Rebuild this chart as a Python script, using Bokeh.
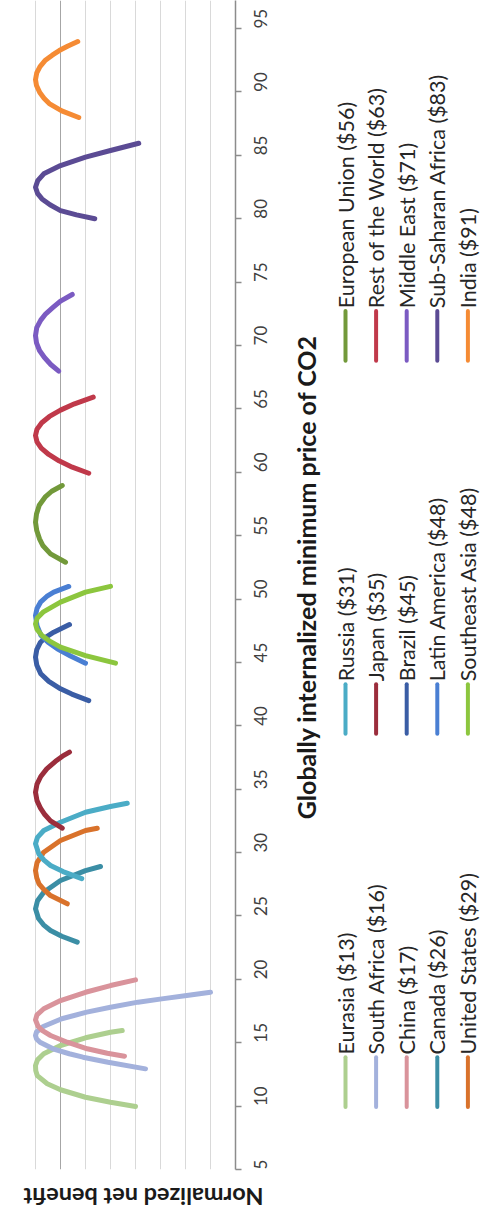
import math
from bokeh.plotting import figure
from bokeh.models import Range1d, LinearAxis, FixedTicker, Grid, Span
from bokeh.layouts import row, column
from bokeh.core.properties import value
from bokeh.embed import file_html
from bokeh.resources import INLINE

# ---------------- data ----------------
countries = ["Eurasia", "South Africa", "China", "Canada", "United States",
             "Russia", "Japan", "Brazil", "Latin America", "Southeast Asia",
             "European Union", "Rest of the World", "Middle East",
             "Sub-Saharan Africa", "India"]
country_prices = [13, 16, 17, 26, 29, 31, 35, 45, 48, 48, 56, 63, 71, 83, 91]
colors = ["#adcf8f", "#a3b1dc", "#d9939b", "#3b8ea5", "#d9722b",
          "#4bacc6", "#9b2d3c", "#3a5da5", "#4a7fd3", "#8cc63e",
          "#72993a", "#c0394a", "#7b5bc2", "#5b4b94", "#f58b34"]

eurasia_price = [9.97, 10.31, 10.70, 11.29, 11.76, 12.41, 12.8, 13.2, 13.65, 14.13, 14.78, 15.39, 15.83, 15.96]
eurasia_benefit = [-3.0, -2.0, -1.0, 0.0, 0.53, 0.93, 0.99, 1.0, 0.92, 0.67, 0.0, -1.0, -2.0, -2.47]
south_africa_price = [12.94, 13.46, 13.86, 14.13, 14.52, 15.04, 15.3, 15.57, 15.85, 16.28, 16.89, 17.41, 17.8, 18.2, 18.46, 18.72, 18.98]
south_africa_benefit = [-3.4, -1.9, -0.9, -0.35, 0.3, 0.82, 0.96, 1.0, 0.96, 0.69, -0.05, -1.05, -2.0, -3.1, -4.05, -5.05, -6.0]
china_price = [13.94, 14.17, 14.52, 15.04, 15.57, 15.95, 16.3, 16.8, 17.2, 17.68, 18.33, 18.98, 19.51, 19.96]
china_benefit = [-2.56, -1.87, -1.07, -0.27, 0.4, 0.72, 0.9, 1.0, 0.94, 0.67, 0.0, -1.0, -2.0, -3.0]
canada_price = [22.93, 23.4, 23.85, 24.3, 24.8, 25.56, 26.2, 26.87, 27.8, 28.58, 28.9]
canada_benefit = [-0.67, -0.05, 0.4, 0.68, 0.88, 1.0, 0.92, 0.67, 0.0, -1.0, -1.6]
us_price = [25.96, 26.61, 27.1, 27.53, 28.0, 28.58, 29.2, 30.03, 30.95, 31.74, 31.92]
us_benefit = [-0.27, 0.4, 0.67, 0.86, 0.95, 1.0, 0.94, 0.67, 0.0, -1.0, -1.47]
russia_price = [27.95, 28.5, 28.98, 29.4, 29.9, 30.69, 31.2, 31.74, 32.39, 33.18, 33.63, 33.89]
russia_benefit = [-0.85, -0.1, 0.4, 0.66, 0.87, 1.0, 0.92, 0.67, 0.0, -1.0, -2.0, -2.67]
japan_price = [31.92, 32.5, 33.0, 33.5, 34.1, 34.76, 35.4, 36.0, 36.6, 37.2, 37.6, 37.92]
japan_benefit = [-0.07, 0.4, 0.63, 0.8, 0.94, 1.0, 0.94, 0.79, 0.55, 0.2, -0.08, -0.36]
brazil_price = [41.99, 42.5, 42.92, 43.5, 44.1, 44.8, 45.41, 46.0, 46.59, 47.0, 47.38, 47.99]
brazil_benefit = [-1.13, -0.45, 0.0, 0.47, 0.79, 0.95, 1.0, 0.95, 0.8, 0.58, 0.27, -0.36]
latam_price = [44.94, 45.5, 46.07, 46.6, 47.12, 47.9, 48.7, 49.25, 49.75, 50.2, 50.54, 50.99]
latam_benefit = [-1.0, -0.4, 0.13, 0.5, 0.78, 0.94, 1.0, 0.94, 0.8, 0.55, 0.27, -0.33]
se_asia_price = [44.94, 45.54, 46.2, 46.7, 47.12, 47.6, 48.04, 48.5, 48.96, 49.75, 50.54, 51.0]
se_asia_benefit = [-2.2, -1.0, 0.0, 0.45, 0.74, 0.94, 1.0, 0.93, 0.7, 0.0, -1.0, -2.0]
eu_price = [52.9, 53.56, 54.2, 54.75, 55.4, 56.06, 56.7, 57.4, 58.03, 58.5, 58.95]
eu_benefit = [-0.2, 0.4, 0.7, 0.84, 0.95, 1.0, 0.96, 0.85, 0.62, 0.35, -0.07]
row_price = [59.92, 60.4, 60.9, 61.4, 61.9, 62.4, 62.9, 63.4, 63.9, 64.4, 64.9, 65.4, 65.92]
row_benefit = [-1.13, -0.47, 0.06, 0.47, 0.77, 0.94, 1.0, 0.94, 0.75, 0.44, 0.0, -0.56, -1.31]
me_price = [67.97, 68.5, 69.07, 69.6, 70.2, 70.78, 71.4, 72.0, 72.5, 73.0, 73.5, 74.02]
me_benefit = [0.07, 0.39, 0.65, 0.84, 0.96, 1.0, 0.95, 0.79, 0.59, 0.3, 0.0, -0.47]
ssa_price = [79.99, 80.3, 80.64, 81.1, 81.56, 82.0, 82.48, 83.0, 83.54, 84.19, 84.85, 85.38, 85.95]
ssa_benefit = [-1.37, -0.64, 0.0, 0.42, 0.74, 0.92, 1.0, 0.91, 0.67, 0.0, -1.0, -2.0, -3.13]
india_price = [87.98, 88.5, 89.08, 89.5, 89.95, 90.5, 90.97, 91.5, 92.0, 92.47, 92.9, 93.26, 93.6, 93.97]
india_benefit = [-0.73, -0.05, 0.45, 0.66, 0.83, 0.96, 1.0, 0.95, 0.82, 0.62, 0.33, 0.05, -0.28, -0.69]

curve_prices = [eurasia_price, south_africa_price, china_price, canada_price, us_price,
                russia_price, japan_price, brazil_price, latam_price, se_asia_price,
                eu_price, row_price, me_price, ssa_price, india_price]
curve_benefits = [eurasia_benefit, south_africa_benefit, china_benefit, canada_benefit, us_benefit,
                  russia_benefit, japan_benefit, brazil_benefit, latam_benefit, se_asia_benefit,
                  eu_benefit, row_benefit, me_benefit, ssa_benefit, india_benefit]

price_ticks = list(range(5, 100, 5))
benefit_gridlines = [-6, -5, -4, -3, -2, -1, 1, 2]
x_title = "Globally internalized minimum price of CO2"
y_title = "Normalized net benefit"
labels = [f"{c} (${v})" for c, v in zip(countries, country_prices)]

FONT = "Lato"

# ---------------- main plot ----------------
p = figure(width=288, height=1178, x_range=Range1d(2, -7), y_range=Range1d(5, 97.21),
           x_axis_location=None, y_axis_location=None, toolbar_location=None,
           output_backend="svg", min_border_left=10, min_border_right=53,
           min_border_top=0, min_border_bottom=9, outline_line_color=None)
for g in p.grid:
    g.visible = False
p.add_layout(Grid(dimension=0, ticker=FixedTicker(ticks=benefit_gridlines),
                  grid_line_color="#d9d9d9", grid_line_width=1))
p.add_layout(Span(location=0, dimension="height", line_color="#a6a6a6",
                  line_width=1, level="underlay"))

for pr, bn, col in zip(curve_prices, curve_benefits, colors):
    p.line(x=bn, y=pr, line_color=col, line_width=5, line_cap="round", line_join="round")

ax = LinearAxis(ticker=FixedTicker(ticks=price_ticks))
ax.axis_line_color = "#8c8c8c"
ax.axis_line_width = 1.5
ax.major_tick_line_color = "#8c8c8c"
ax.major_tick_line_width = 1.5
ax.major_tick_out = 6
ax.major_tick_in = 0
ax.minor_tick_out = 0
ax.minor_tick_in = 0
ax.major_label_orientation = math.pi / 2
ax.major_label_standoff = 19
ax.major_label_text_font = FONT
ax.major_label_text_font_size = "17px"
ax.major_label_text_color = "#404040"
p.add_layout(ax, "right")

# ---------------- axis title + legend panel ----------------
lf = figure(width=192, height=1178, x_range=Range1d(288, 480), y_range=Range1d(-1178, 0),
            x_axis_location=None, y_axis_location=None, toolbar_location=None,
            output_backend="svg", min_border_left=0, min_border_right=0,
            min_border_top=0, min_border_bottom=0, outline_line_color=None)
for g in lf.grid:
    g.visible = False

lf.text(x=[305], y=[-581], text=[x_title], angle=math.pi / 2, text_align="center",
        text_baseline="middle", text_font=value(FONT), text_font_style="bold",
        text_font_size="25px", text_color="#1a1a1a")

leg_x = [345 + (i % 5) * 30.6 for i in range(len(labels))]
sw_bottom = [1115 - (i // 5) * 376 for i in range(len(labels))]
lf.segment(x0=leg_x, y0=[-b for b in sw_bottom], x1=leg_x, y1=[-(b - 50) for b in sw_bottom],
           line_color=colors, line_width=4, line_cap="round")
lf.text(x=leg_x, y=[-(b - 53) for b in sw_bottom], text=labels, angle=math.pi / 2,
        text_align="left", text_baseline="middle", text_font=value(FONT),
        text_font_size="21.5px", text_color="#262626")

# ---------------- bottom axis title ----------------
bf = figure(width=480, height=39, x_range=Range1d(0, 480), y_range=Range1d(-1217, -1178),
            x_axis_location=None, y_axis_location=None, toolbar_location=None,
            output_backend="svg", min_border_left=0, min_border_right=0,
            min_border_top=0, min_border_bottom=0, outline_line_color=None)
for g in bf.grid:
    g.visible = False
bf.text(x=[143], y=[-1196], text=[y_title], angle=math.pi, text_align="center",
        text_baseline="middle", text_font=value(FONT), text_font_style="bold",
        text_font_size="23.5px", text_color="#1a1a1a")

layout = column(row(p, lf), bf)
open("out.html", "w").write(file_html(layout, INLINE))
